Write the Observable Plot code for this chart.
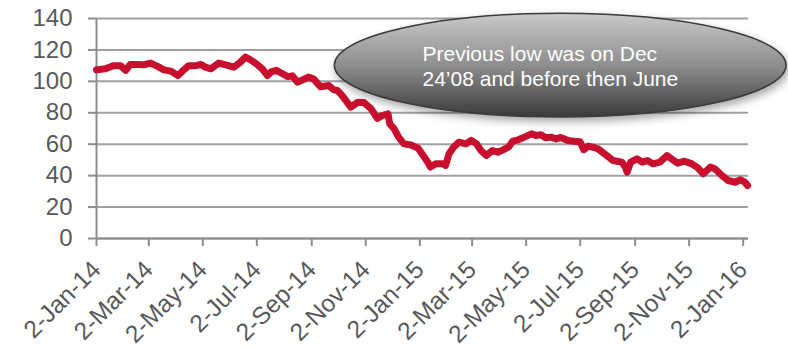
<!DOCTYPE html>
<html>
<head>
<meta charset="utf-8">
<script src="https://cdn.jsdelivr.net/npm/d3@7"></script>
<script src="https://cdn.jsdelivr.net/npm/@observablehq/plot@0.6"></script>
<style>
  html, body { margin: 0; padding: 0; background: #ffffff; }
  #chart svg { display: block; }
</style>
</head>
<body>
<div id="chart"></div>
<script>
// Daily closing price, sampled through 2014–2015
const dates = [
  "2014-01-02","2014-01-12","2014-01-21","2014-01-29","2014-02-04","2014-02-09","2014-02-17","2014-02-24",
  "2014-03-04","2014-03-12","2014-03-19","2014-03-27","2014-04-04","2014-04-11","2014-04-16","2014-04-24",
  "2014-04-30","2014-05-05","2014-05-11","2014-05-20","2014-05-28","2014-06-06","2014-06-13","2014-06-19",
  "2014-06-24","2014-07-02","2014-07-08","2014-07-14","2014-07-18","2014-07-24","2014-07-31","2014-08-06",
  "2014-08-11","2014-08-17","2014-08-23","2014-08-29","2014-09-04","2014-09-12","2014-09-21","2014-09-27",
  "2014-10-01","2014-10-07","2014-10-16","2014-10-24","2014-10-31","2014-11-08","2014-11-15","2014-11-21",
  "2014-11-27","2014-11-29","2014-12-04","2014-12-09","2014-12-15","2014-12-23","2014-12-31","2015-01-05",
  "2015-01-11","2015-01-14","2015-01-20","2015-01-28","2015-01-31","2015-02-04","2015-02-09","2015-02-15",
  "2015-02-23","2015-03-01","2015-03-07","2015-03-12","2015-03-18","2015-03-25","2015-03-31","2015-04-06",
  "2015-04-12","2015-04-17","2015-04-23","2015-04-30","2015-05-08","2015-05-13","2015-05-19","2015-05-24",
  "2015-05-30","2015-06-05","2015-06-10","2015-06-18","2015-06-25","2015-07-02","2015-07-06","2015-07-11",
  "2015-07-17","2015-07-22","2015-07-28","2015-08-01","2015-08-08","2015-08-14","2015-08-18","2015-08-22",
  "2015-08-24","2015-08-28","2015-09-04","2015-09-10","2015-09-16","2015-09-22","2015-09-30","2015-10-08",
  "2015-10-13","2015-10-20","2015-10-28","2015-11-05","2015-11-11","2015-11-18","2015-11-26","2015-12-01",
  "2015-12-09","2015-12-16","2015-12-24","2015-12-30","2016-01-04","2016-01-07"
];
const prices = [
  107.3,108.0,110.0,110.0,107.0,110.7,110.7,110.5,
  111.6,109.5,107.3,106.5,103.7,107.5,110.0,110.0,
  110.7,109.0,108.0,111.6,110.5,109.0,112.0,115.4,
  114.0,111.0,108.0,103.7,106.0,107.0,104.8,103.0,
  103.5,99.5,101.0,102.7,101.6,96.5,97.4,94.6,
  94.2,90.4,83.6,86.7,86.5,82.5,76.5,78.3,
  79.4,73.0,69.8,64.5,60.2,59.5,57.5,53.5,
  48.5,45.5,47.5,47.5,46.5,53.9,58.0,61.3,
  60.2,62.5,60.2,56.0,52.8,56.0,54.9,56.4,
  58.1,62.0,62.8,64.5,66.6,65.5,66.0,64.1,
  64.5,63.4,64.3,62.4,61.9,61.5,56.5,58.8,
  58.0,57.1,54.5,52.8,49.6,49.0,48.6,45.5,
  42.2,48.6,50.7,48.6,49.6,47.5,48.6,52.8,
  50.7,47.9,49.2,47.5,45.4,41.2,45.4,44.4,
  40.1,36.9,35.8,37.4,35.8,33.7
];

// Axis ticks
const yTicks = [0, 20, 40, 60, 80, 100, 120, 140];
const xTickDates = [
  "2014-01-02","2014-03-02","2014-05-02","2014-07-02","2014-09-02","2014-11-02","2015-01-02",
  "2015-03-02","2015-05-02","2015-07-02","2015-09-02","2015-11-02","2016-01-02"
];

// Callout text
const noteLines = ["Previous low was on Dec", "24\u201908 and before then June"];

const parse = d3.utcParse("%Y-%m-%d");
const series = dates.map((d, i) => ({date: parse(d), price: prices[i]}));
const xTicks = xTickDates.map(parse);
const fmt = d3.utcFormat("%-d-%b-%y");

const gray = "#8c8c8c";
const ink = "#595959";
const font = "'Liberation Sans', Arial, sans-serif";

// Callout bubble, placed in data space
const bubble = [{x1: parse("2014-09-28"), x2: parse("2016-02-20"), y1: 77, y2: 143}];
const note = [{x: parse("2015-01-05"), y: 124, text: noteLines.join("\n")}];

const chart = Plot.plot({
  width: 788,
  height: 349,
  marginLeft: 96,
  marginRight: 40,
  marginTop: 18,
  marginBottom: 111,
  style: {fontFamily: font, background: "#ffffff", overflow: "visible"},
  x: {type: "utc", domain: [parse("2014-01-02"), parse("2016-01-08")]},
  y: {domain: [0, 140]},
  marks: [
    Plot.gridY(yTicks, {stroke: "#a0a0a0", strokeOpacity: 1, strokeWidth: 2}),
    Plot.ruleY([0], {stroke: gray, strokeWidth: 2}),
    Plot.ruleX([parse("2014-01-02")], {stroke: gray, strokeWidth: 2}),
    Plot.axisY({
      ticks: yTicks, tickSize: 8, tickPadding: 16, fontSize: 24,
      stroke: gray, strokeWidth: 2, fill: ink, label: null
    }),
    Plot.axisX({
      ticks: xTicks, tickSize: 8, tickFormat: fmt, tickRotate: -45,
      textAnchor: "end", lineAnchor: "middle", tickPadding: 19, dx: 0,
      fontSize: 24.5, stroke: gray, strokeWidth: 2, fill: ink, label: null
    }),
    Plot.line(series, {
      x: "date", y: "price", stroke: "#c8102e", strokeWidth: 7,
      strokeLinejoin: "round", strokeLinecap: "round"
    }),
    Plot.rect(bubble, {
      x1: "x1", x2: "x2", y1: "y1", y2: "y2", rx: 1000, ry: 1000,
      fill: "url(#bubbleFill)", stroke: "#3a3a3a", strokeWidth: 1.5
    }),
    Plot.text(note, {
      x: "x", y: "y", text: "text", textAnchor: "start", lineAnchor: "top",
      lineHeight: 25 / 21, fontSize: 21, fill: "#ffffff"
    })
  ]
});

// Gradient and soft shadow for the callout bubble
const svg = d3.select(chart);
const defs = svg.insert("defs", ":first-child");
const grad = defs.append("linearGradient")
  .attr("id", "bubbleFill").attr("x1", 0).attr("y1", 0).attr("x2", 0).attr("y2", 1);
grad.append("stop").attr("offset", "0%").attr("stop-color", "#cacaca");
grad.append("stop").attr("offset", "50%").attr("stop-color", "#8e8e8e");
grad.append("stop").attr("offset", "100%").attr("stop-color", "#3a3a3a");
const shadow = defs.append("filter").attr("id", "bubbleShadow")
  .attr("x", "-10%").attr("y", "-20%").attr("width", "120%").attr("height", "150%");
shadow.append("feDropShadow").attr("dx", 2).attr("dy", 4)
  .attr("stdDeviation", 4).attr("flood-color", "#000").attr("flood-opacity", 0.35);
svg.selectAll('g[aria-label="rect"] rect').attr("filter", "url(#bubbleShadow)");

document.getElementById("chart").append(chart);
</script>
</body>
</html>
